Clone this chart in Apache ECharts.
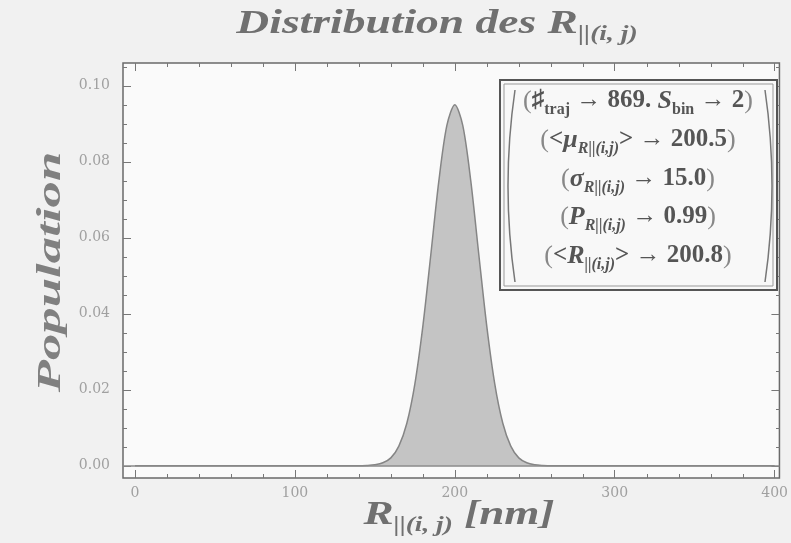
<!DOCTYPE html>
<html>
<head>
	<meta charset="utf-8">
	<title>Distribution des R</title>
	<script type="text/javascript" src="https://cdn.jsdelivr.net/npm/echarts@6/dist/echarts.min.js"></script>
	<style>
		html, body { margin: 0; padding: 0; background: #f1f1f1; }
		#chart { width: 791px; height: 543px; }
	</style>
</head>
<body>
<div id="chart"></div>
<script type="text/javascript">
	// R||(i,j) en nm, et population
	var rValues = [0, 130, 140, 145, 150, 155, 160, 165, 170, 175, 180, 185, 190, 195, 200,
		205, 210, 215, 220, 225, 230, 235, 240, 245, 250, 255, 260, 270, 400];
	var population = [0, 0, 0.0000, 0.0001, 0.0003, 0.0008, 0.0021, 0.0052, 0.0112, 0.0215, 0.0367, 0.0556, 0.0749, 0.0895, 0.0950,
		0.0895, 0.0749, 0.0556, 0.0367, 0.0215, 0.0112, 0.0052, 0.0021, 0.0008, 0.0003, 0.0001, 0, 0, 0];

	var xMajor = [0, 100, 200, 300, 400];
	var xMinor = [20, 40, 60, 80, 120, 140, 160, 180, 220, 240, 260, 280, 320, 340, 360, 380];
	var yMajor = [0, 0.02, 0.04, 0.06, 0.08, 0.10];
	var yMinor = [0.005, 0.01, 0.015, 0.025, 0.03, 0.035, 0.045, 0.05, 0.055, 0.065, 0.07, 0.075, 0.085, 0.09, 0.095, 0.105];

	var xMin = -7.5, xMax = 403;
	var yMin = -0.0032, yMax = 0.106;

	var serif = 'Liberation Serif';
	var tickColor = '#777';

	function xAx(grid, pos, ticks, len, labels){
		return {
			type: 'value', gridIndex: grid, position: pos, min: xMin, max: xMax,
			axisLine: { show: false, onZero: false },
			splitLine: { show: false },
			axisTick: { show: true, inside: true, length: len, customValues: ticks, lineStyle: { color: tickColor, width: 1 } },
			axisLabel: labels ? {
				show: true, customValues: ticks, margin: 8,
				fontFamily: 'DejaVu Serif', fontSize: 14, color: '#a0a0a0',
				formatter: function(v){ return String(v); }
			} : { show: false }
		};
	}
	function yAx(grid, pos, ticks, len, labels){
		return {
			type: 'value', gridIndex: grid, position: pos, min: yMin, max: yMax,
			axisLine: { show: false, onZero: false },
			splitLine: { show: false },
			axisTick: { show: true, inside: true, length: len, customValues: ticks, lineStyle: { color: tickColor, width: 1 } },
			axisLabel: labels ? {
				show: true, customValues: ticks, margin: 13,
				fontFamily: 'DejaVu Serif', fontSize: 14, color: '#a0a0a0',
				formatter: function(v){ return v.toFixed(2); }
			} : { show: false }
		};
	}

	var txt = '#555';
	var rich = {
		m: { fontSize: 25, fontWeight: 'bold', fontFamily: serif, fill: txt, lineHeight: 34, verticalAlign: 'middle' },
		i: { fontSize: 26, fontWeight: 'bold', fontStyle: 'italic', fontFamily: serif, fill: txt, lineHeight: 34, verticalAlign: 'middle' },
		p: { fontSize: 26, fontWeight: 'normal', fontFamily: serif, fill: '#888', lineHeight: 34, verticalAlign: 'middle' },
		s: { fontSize: 16, fontWeight: 'bold', fontFamily: serif, fill: txt, lineHeight: 14, verticalAlign: 'bottom' },
		si: { fontSize: 16, fontWeight: 'bold', fontStyle: 'italic', fontFamily: serif, fill: txt, lineHeight: 14, verticalAlign: 'bottom' }
	};
	var legendLines = [
		'{p|(}{m|♯}{s|traj}{m| → 869. }{i|S}{s|bin}{m| → 2}{p|)}',
		'{p|(}{m|<}{i|μ}{si|R||(i,j)}{m|> → 200.5}{p|)}',
		'{p|(}{i|σ}{si|R||(i,j)}{m| → 15.0}{p|)}',
		'{p|(}{i|P}{si|R||(i,j)}{m| → 0.99}{p|)}',
		'{p|(}{m|<}{i|R}{si|||(i,j)}{m|> → 200.8}{p|)}'
	];
	var lineY = [101, 140, 179, 217, 256];

	var bigRich = {
		t: { fontSize: 33, fontWeight: 'bold', fontStyle: 'italic', fontFamily: serif, fill: '#707070', lineHeight: 42, verticalAlign: 'middle' },
		ts: { fontSize: 20, fontWeight: 'bold', fontStyle: 'italic', fontFamily: serif, fill: '#707070', lineHeight: 24, verticalAlign: 'bottom' }
	};

	var graphics = [
		{ type: 'rect', silent: true, z: 10, shape: { x: 500, y: 80, width: 277, height: 210 },
			style: { fill: '#f8f8f8', stroke: '#555', lineWidth: 2 } },
		{ type: 'rect', silent: true, z: 10, shape: { x: 504, y: 84, width: 269, height: 202 },
			style: { fill: 'none', stroke: '#999', lineWidth: 1 } },
		{ type: 'bezierCurve', silent: true, z: 11, shape: { x1: 515, y1: 90, x2: 515, y2: 282, cpx1: 501, cpy1: 186 },
			style: { fill: 'none', stroke: '#777', lineWidth: 1.5 } },
		{ type: 'bezierCurve', silent: true, z: 11, shape: { x1: 765, y1: 90, x2: 765, y2: 282, cpx1: 779, cpy1: 186 },
			style: { fill: 'none', stroke: '#777', lineWidth: 1.5 } },
		{ type: 'text', silent: true, z: 12, x: 437, y: 24, scaleX: 1.38, style: {
			x: 0, y: 0, align: 'center', verticalAlign: 'middle',
			text: '{t|Distribution des R}{ts|||(i, j)}', rich: bigRich
		} },
		{ type: 'text', silent: true, z: 12, x: 51, y: 272, rotation: Math.PI / 2, scaleX: 1.6, style: {
			x: 0, y: 0, align: 'center', verticalAlign: 'middle',
			text: 'Population',
			font: 'italic bold 33px "Liberation Serif"', fill: '#808080'
		} },
		{ type: 'text', silent: true, z: 12, x: 459, y: 515, scaleX: 1.37, style: {
			x: 0, y: 0, align: 'center', verticalAlign: 'middle',
			text: '{t|R}{ts|||(i, j)}{t| [nm]}', rich: bigRich
		} }
	];
	legendLines.forEach(function(s, k){
		graphics.push({ type: 'text', silent: true, z: 12, style: {
			x: 638, y: lineY[k], align: 'center', verticalAlign: 'middle', text: s, rich: rich
		} });
	});

	var seriesData = rValues.map(function(r, k){ return [r, population[k]]; });

	var gridBox = { left: 123, right: 11, top: 63, bottom: 65 };

	var myChart = echarts.init(document.getElementById('chart'), null, { renderer: 'canvas' });
	var option = {
		backgroundColor: '#f1f1f1',
		animation: false,
		grid: [
			Object.assign({ show: true, backgroundColor: '#fafafa', borderColor: '#6a6a6a', borderWidth: 1.5 }, gridBox),
			Object.assign({ show: false }, gridBox)
		],
		xAxis: [
			xAx(0, 'bottom', xMajor, 8, true),
			xAx(0, 'top', xMajor, 8, false),
			xAx(1, 'bottom', xMinor, 4, false),
			xAx(1, 'top', xMinor, 4, false)
		],
		yAxis: [
			yAx(0, 'left', yMajor, 8, true),
			yAx(0, 'right', yMajor, 8, false),
			yAx(1, 'left', yMinor, 4, false),
			yAx(1, 'right', yMinor, 4, false)
		],
		series: [{
			type: 'line',
			xAxisIndex: 0, yAxisIndex: 0,
			data: seriesData,
			smooth: 0.3,
			showSymbol: false,
			lineStyle: { color: '#858585', width: 1.5 },
			areaStyle: { color: '#c4c4c4', opacity: 1 },
			markLine: {
				silent: true, symbol: 'none', label: { show: false },
				lineStyle: { color: '#888', width: 1.5, type: 'solid' },
				data: [{ yAxis: 0 }]
			}
		}],
		graphic: graphics
	};
	myChart.setOption(option);
</script>
</body>
</html>
